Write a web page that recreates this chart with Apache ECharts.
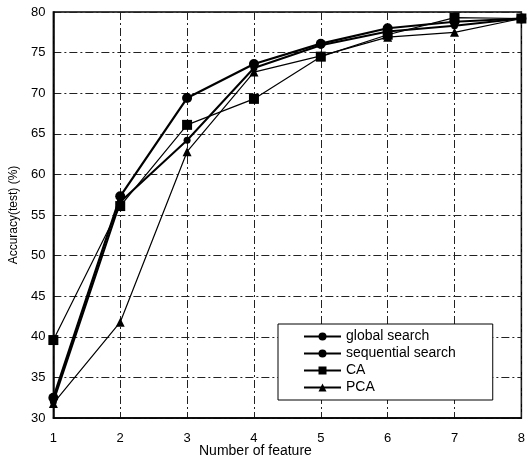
<!DOCTYPE html>
<html><head><meta charset="utf-8">
<script src="https://cdn.jsdelivr.net/npm/echarts@6/dist/echarts.min.js"></script>
<style>html,body{margin:0;padding:0;background:#fff}#c{width:528px;height:459px}</style>
</head><body><div id="c"></div>
<script>
const features = [1, 2, 3, 4, 5, 6, 7, 8];
const globalSearch = [32.5, 57.3, 69.4, 73.6, 76.1, 78.0, 78.8, 79.2];
const sequentialSearch = [32.0, 56.6, 64.2, 73.1, 75.9, 77.6, 78.3, 79.2];
const caValues = [39.6, 56.1, 66.1, 69.3, 74.5, 77.2, 79.3, 79.2];
const pcaValues = [31.8, 41.8, 62.8, 72.6, 74.6, 76.9, 77.5, 79.2];
const yTicks = [30, 35, 40, 45, 50, 55, 60, 65, 70, 75, 80];

const pair = arr => features.map((f, i) => [f, arr[i]]);
const font = 'Liberation Sans, Arial, sans-serif';
const grid = { type: [8, 3, 2, 3], color: '#222', width: 1 };

const chart = echarts.init(document.getElementById('c'));
chart.setOption({
  animation: false,
  backgroundColor: '#fff',
  grid: { left: 51, top: 12, right: 3, bottom: 41, show: true, borderColor: '#000', borderWidth: 1.5 },
  xAxis: {
    type: 'value', min: 1, max: 8, interval: 1,
    axisLine: { show: true, lineStyle: { color: '#000', width: 1.5 } },
    axisTick: { show: false },
    axisLabel: { color: '#000', fontSize: 13, fontFamily: font, margin: 14 },
    splitLine: { show: true, lineStyle: grid }
  },
  yAxis: {
    type: 'value', min: yTicks[0], max: yTicks[yTicks.length - 1], interval: 5,
    name: 'Accuracy(test) (%)', nameLocation: 'middle', nameGap: 31,
    nameTextStyle: { color: '#000', fontSize: 12, fontFamily: font },
    axisLine: { show: true, lineStyle: { color: '#000', width: 1.5 } },
    axisTick: { show: false },
    axisLabel: { color: '#000', fontSize: 13, fontFamily: font, margin: 8 },
    splitLine: { show: true, lineStyle: grid }
  },
  graphic: [{
    type: 'text', left: 199, top: 444,
    style: { text: 'Number of feature', fill: '#000', font: '14px ' + font }
  }],
  legend: {
    orient: 'vertical', left: 278, top: 324,
    backgroundColor: '#fff', borderColor: '#000', borderWidth: 1,
    padding: [5, 37, 5, 25], itemGap: 2, itemWidth: 37, itemHeight: 10,
    textStyle: { color: '#000', fontSize: 14, fontFamily: font, lineHeight: 15 },
    data: ['global search', 'sequential search', 'CA', 'PCA']
  },
  series: [
    { name: 'global search', type: 'line', data: pair(globalSearch), symbol: 'circle', symbolSize: 10,
      lineStyle: { color: '#000', width: 2.2 }, itemStyle: { color: '#000' } },
    { name: 'sequential search', type: 'line', data: pair(sequentialSearch), symbol: 'circle', symbolSize: 7,
      lineStyle: { color: '#000', width: 2 }, itemStyle: { color: '#000' } },
    { name: 'CA', type: 'line', data: pair(caValues), symbol: 'rect', symbolSize: 10,
      lineStyle: { color: '#000', width: 1.2 }, itemStyle: { color: '#000' } },
    { name: 'PCA', type: 'line', data: pair(pcaValues), symbol: 'triangle', symbolSize: 9,
      lineStyle: { color: '#000', width: 1.2 }, itemStyle: { color: '#000' } }
  ]
});
</script></body></html>
